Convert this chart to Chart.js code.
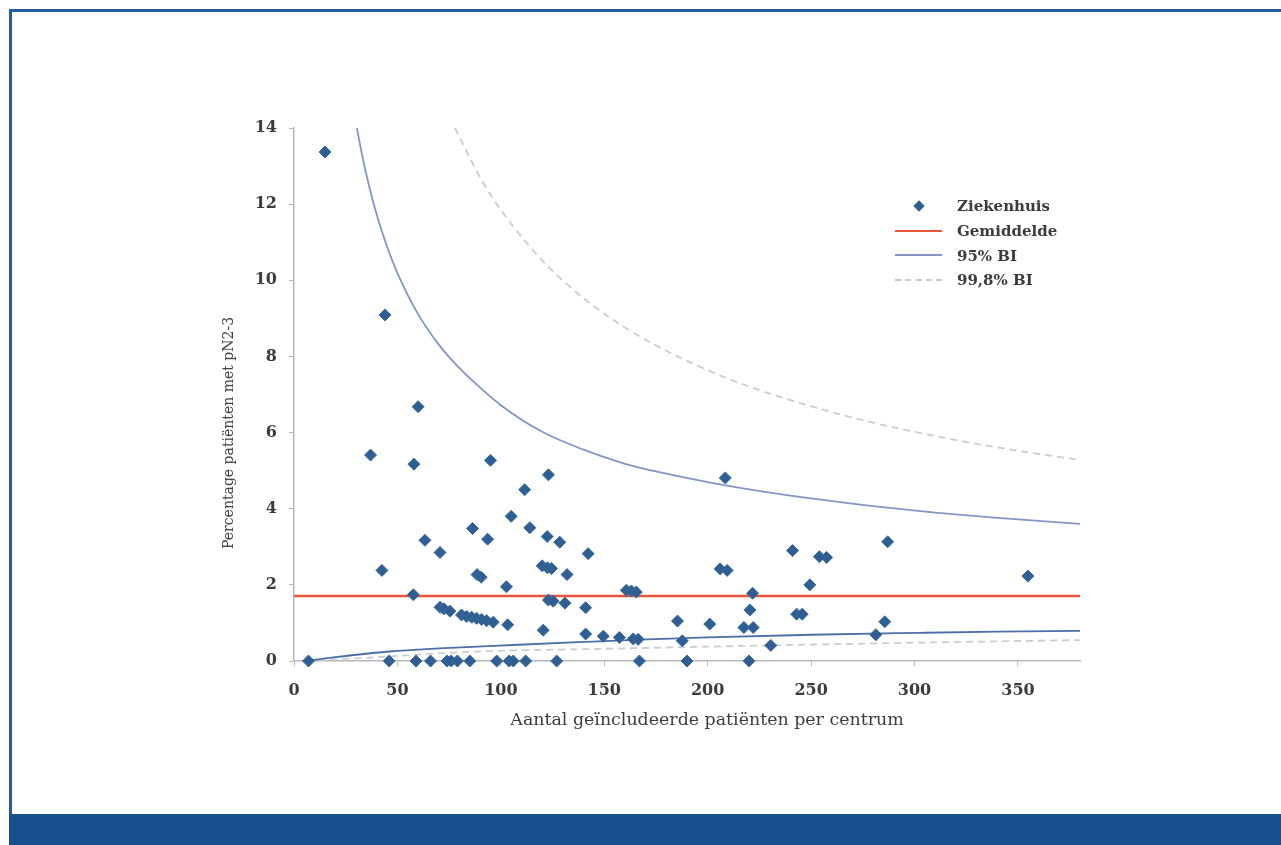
<!DOCTYPE html>
<html>
<head>
<meta charset="utf-8">
<script src="https://cdn.jsdelivr.net/npm/chart.js@4.4.1/dist/chart.umd.min.js"></script>
<style>
  body { margin: 0; background: #fff; }
  #page { position: relative; width: 1281px; height: 845px; overflow: hidden; }
  #frame { position: absolute; left: 9px; top: 9px; right: 0; height: 806px;
           border-left: 3px solid #245c9c; border-top: 3px solid #245c9c; }
  #band { position: absolute; left: 9px; top: 814px; right: 0; height: 31px; background: #154f8c; }
  canvas { position: absolute; left: 0; top: 0; }
  .lg-text { position: absolute; left: 957px; font: bold 15px "DejaVu Serif", serif; color: #3c3c3c;
             line-height: 18px; margin-top: -9px; white-space: nowrap; }
  .lg-line { position: absolute; left: 895px; width: 47px; height: 0; }
  .lg-dot { position: absolute; left: 915px; top: 202px; width: 8px; height: 8px;
            background: #2f5f92; transform: rotate(45deg); }
  #ytitle { position: absolute; left: 228px; top: 433px; transform: translate(-50%, -50%) rotate(-90deg);
            font: 14px "DejaVu Serif", serif; color: #3c3c3c; white-space: nowrap; }
  #xtitle { position: absolute; left: 707px; top: 719px; transform: translate(-50%, -50%);
            font: 17.4px "DejaVu Serif", serif; color: #3c3c3c; white-space: nowrap; }
</style>
</head>
<body>
<div id="page">
  <div id="frame"></div>
  <div id="band"></div>
  <canvas id="funnelChart" width="1281" height="845"></canvas>
  <div id="ytitle">Percentage patiënten met pN2-3</div>
  <div id="xtitle">Aantal geïncludeerde patiënten per centrum</div>

  <div class="lg-dot"></div>
  <div class="lg-text" style="top:206px">Ziekenhuis</div>
  <div class="lg-line" style="top:230px; border-top: 2.5px solid #e8553a"></div>
  <div class="lg-text" style="top:231px">Gemiddelde</div>
  <div class="lg-line" style="top:254px; border-top: 2px solid #8595c6"></div>
  <div class="lg-text" style="top:256px">95% BI</div>
  <div class="lg-line" style="top:279px; border-top: 2px dashed #c4c8d0"></div>
  <div class="lg-text" style="top:280px">99,8% BI</div>
</div>

<script>
// Hospitals: number of included patients vs % pN2-3
const hospitalN = [
  7, 46, 59, 66, 74, 76, 79, 85, 98, 104, 106, 112, 127, 167, 190, 220,
  15, 44, 60, 37, 58, 95, 123, 208.5, 111.5, 105, 114, 86.3, 93.6, 63.3,
  122.4, 128.5, 70.6, 142.2, 241, 287, 254, 257.5, 354.8, 42.5, 88.5, 90.5,
  120, 122.5, 124.5, 132, 206, 209.4, 249.4, 102.7, 57.7, 160.7, 163.1, 165.5,
  221.7, 123, 125.3, 131, 141, 220.4, 70.6, 72.5, 75.4, 81, 83.5, 85.9,
  88.3, 90.7, 93.1, 96.3, 103.3, 120.5, 141, 149.5, 157.3, 164, 166.4,
  185.4, 187.7, 201, 217.5, 222, 243, 245.7, 230.5, 281.3, 285.6
];
const hospitalPct = [
  0, 0, 0, 0, 0, 0, 0, 0, 0, 0, 0, 0, 0, 0, 0, 0,
  13.37, 9.09, 6.68, 5.41, 5.17, 5.27, 4.89, 4.81, 4.5, 3.8, 3.5, 3.48, 3.2, 3.17,
  3.27, 3.12, 2.85, 2.82, 2.9, 3.13, 2.74, 2.72, 2.23, 2.38, 2.27, 2.2,
  2.5, 2.45, 2.43, 2.27, 2.42, 2.38, 2.0, 1.95, 1.74, 1.86, 1.84, 1.81,
  1.78, 1.6, 1.57, 1.52, 1.4, 1.34, 1.41, 1.37, 1.31, 1.21, 1.17, 1.15,
  1.12, 1.09, 1.06, 1.02, 0.95, 0.81, 0.71, 0.65, 0.62, 0.58, 0.57,
  1.05, 0.53, 0.97, 0.88, 0.88, 1.23, 1.23, 0.41, 0.69, 1.03
];

// Mean
const meanX = [0, 380];
const meanPct = [1.71, 1.71];

// 95% BI limits
const upper95X = [30.4, 33, 36, 40, 45, 50, 60, 70, 80, 90, 100, 120, 140, 160, 180, 200, 220, 250, 280, 310, 340, 380];
const upper95Pct = [14, 13.27, 12.54, 11.72, 10.88, 10.19, 9.11, 8.31, 7.69, 7.18, 6.72, 6.02, 5.55, 5.18, 4.92, 4.7, 4.51, 4.27, 4.07, 3.9, 3.76, 3.6];
const lower95X = [6, 20, 46, 70, 106, 140, 167, 200, 250, 303, 340, 380];
const lower95Pct = [0, 0.1, 0.25, 0.33, 0.42, 0.5, 0.56, 0.62, 0.69, 0.74, 0.77, 0.79];

// 99,8% BI limits
const upper998X = [77.8, 90, 100, 120, 140, 160, 180, 200, 220, 250, 280, 310, 340, 380];
const upper998Pct = [14, 12.7, 11.85, 10.52, 9.53, 8.76, 8.15, 7.64, 7.21, 6.69, 6.26, 5.91, 5.61, 5.28];
const lower998X = [6, 40, 70, 100, 140, 185, 230, 300, 380];
const lower998Pct = [0, 0.1, 0.2, 0.27, 0.31, 0.36, 0.41, 0.48, 0.55];

const xTicks = [0, 50, 100, 150, 200, 250, 300, 350];

function toPoints(xs, ys) {
    return xs.map((x, i) => ({ x: x, y: ys[i] }));
}

const axisColor = '#b8b8b8';
const textColor = '#3c3c3c';
Chart.defaults.font.family = '"DejaVu Serif", serif';
Chart.defaults.color = textColor;

const curve = (label, data, color, width, dash) => ({
    type: 'line',
    label: label,
    data: data,
    showLine: true,
    borderColor: color,
    borderWidth: width,
    borderDash: dash || [],
    pointRadius: 0,
    fill: false,
    cubicInterpolationMode: 'monotone'
});

const ctx = document.getElementById('funnelChart').getContext('2d');
new Chart(ctx, {
    type: 'scatter',
    data: {
        datasets: [
            {
                label: 'Ziekenhuis',
                data: toPoints(hospitalN, hospitalPct),
                pointStyle: 'rectRot',
                pointRadius: 6,
                backgroundColor: '#2f5f92',
                borderColor: '#3a6a9c',
                borderWidth: 1,
                clip: false
            },
            curve('Gemiddelde', toPoints(meanX, meanPct), '#e8553a', 2.5),
            curve('95% BI', toPoints(upper95X, upper95Pct), '#8595c6', 1.8),
            curve('95% BI laag', toPoints(lower95X, lower95Pct), '#4b6fa6', 1.8),
            curve('99,8% BI', toPoints(upper998X, upper998Pct), '#c8ccd4', 1.8, [7, 5]),
            curve('99,8% BI laag', toPoints(lower998X, lower998Pct), '#c8ccd4', 1.8, [7, 5])
        ]
    },
    options: {
        responsive: false,
        animation: false,
        layout: {
            padding: { left: 194, right: 201, top: 128, bottom: 104 }
        },
        plugins: {
            legend: { display: false },
            tooltip: { enabled: false }
        },
        scales: {
            x: {
                type: 'linear',
                min: 0,
                max: 380,
                afterFit: (scale) => { scale.height = 80; },
                afterBuildTicks: (scale) => {
                    scale.ticks = xTicks.map(v => ({ value: v }));
                },
                grid: { drawOnChartArea: false, drawTicks: true, tickLength: 5, color: axisColor },
                border: { color: axisColor, width: 1.5 },
                ticks: {
                    padding: 15,
                    color: textColor,
                    font: { size: 16, weight: 'bold' }
                },
                title: { display: false }
            },
            y: {
                min: 0,
                max: 14,
                afterFit: (scale) => { scale.width = 100; },
                grid: { drawOnChartArea: false, drawTicks: true, tickLength: 5, color: axisColor },
                border: { color: axisColor, width: 1.5 },
                ticks: {
                    stepSize: 2,
                    padding: 12,
                    color: textColor,
                    font: { size: 16, weight: 'bold' }
                },
                title: { display: false }
            }
        }
    }
});
</script>
</body>
</html>
